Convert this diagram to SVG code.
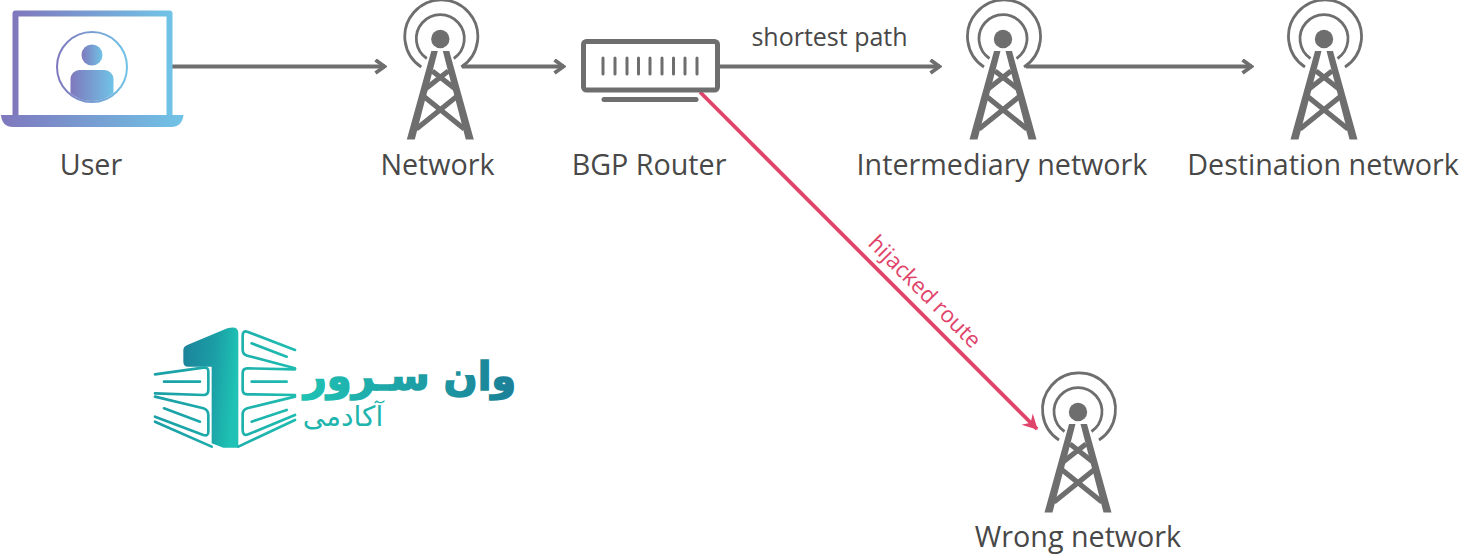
<svg xmlns="http://www.w3.org/2000/svg" width="1459" height="555" viewBox="0 0 1459 555">
<style>
.lbl{font-family:"Open Sans","Noto Sans",sans-serif;font-size:28.700px;fill:#484848;text-anchor:middle}
.con{fill:none;stroke:#6e6e6e;stroke-width:4}
.bk{fill:none;stroke:url(#lg);stroke-width:8;stroke-linecap:round;stroke-linejoin:round}
.twr{fill:none;stroke:#6e6e6e}
</style>
<defs>
<linearGradient id="pb" x1="0" x2="1" y1="0" y2="0"><stop offset="0" stop-color="#7f78bd"/><stop offset="1" stop-color="#70c3e6"/></linearGradient>
<linearGradient id="lg" gradientUnits="userSpaceOnUse" x1="40" x2="470" y1="0" y2="0"><stop offset="0" stop-color="#1a9fa6"/><stop offset="1" stop-color="#1fbcb0"/></linearGradient>
<linearGradient id="one" x1="0" x2="1" y1="0" y2="0.200"><stop offset="0" stop-color="#1b8299"/><stop offset="0.600" stop-color="#1b9fa6"/><stop offset="1" stop-color="#1fc2b4"/></linearGradient>
<linearGradient id="wt" gradientUnits="userSpaceOnUse" x1="303" x2="517" y1="0" y2="0"><stop offset="0" stop-color="#1fc2b4"/><stop offset="1" stop-color="#1b7f97"/></linearGradient>
<clipPath id="uc"><circle cx="92" cy="67" r="34"/></clipPath>
<marker id="ag" viewBox="0 0 14 16" refX="12.500" refY="8" markerWidth="14" markerHeight="16" markerUnits="userSpaceOnUse" orient="auto"><path d="M3 1.500 L12 8 L3 14.500" fill="none" stroke="#6e6e6e" stroke-width="3.800"/></marker>
<marker id="ar" viewBox="0 0 18 18" refX="15" refY="9" markerWidth="18" markerHeight="18" markerUnits="userSpaceOnUse" orient="auto"><path d="M1 1 L16 9 L1 17 L6 9 Z" fill="#e0446a"/></marker>
<g id="tower">
<circle r="9.200" fill="#6e6e6e"/>
<path class="twr" stroke-width="2.800" d="M-13.500 19.500 A24 24 0 1 1 13.500 19.500"/>
<path class="twr" stroke-width="2.800" d="M-19 28 A36.500 36.500 0 1 1 21 28"/>
<path fill="#6e6e6e" d="M-9 12 L-2.500 12 L-25.500 100.500 L-33.500 100.500 Z M9 12 L2.500 12 L25.500 100.500 L33.500 100.500 Z"/>
<path class="twr" stroke-width="5.200" d="M-8 32 L15 50 M8 32 L-15 50 M-17 57 L24 90 M17 57 L-24 90"/>
</g>
</defs>
<rect width="1459" height="555" fill="#fff"/>

<g id="connectors">
<path class="con" marker-end="url(#ag)" d="M172 66.500H385"/>
<path class="con" marker-end="url(#ag)" d="M462 66.500H564"/>
<path class="con" marker-end="url(#ag)" d="M720 66.500H940"/>
<path class="con" marker-end="url(#ag)" d="M1026 66.500H1252"/>
<path fill="none" stroke="#e0446a" stroke-width="3.800" marker-end="url(#ar)" d="M700 92L1037 429"/>
<text font-family="'Open Sans','Noto Sans',sans-serif" font-size="25" fill="#484848" text-anchor="middle" x="829.500" y="46">shortest path</text>
<text font-family="'Open Sans','Noto Sans',sans-serif" font-size="22.300" fill="#e0446a" text-anchor="middle" transform="translate(919.500 297) rotate(45)" x="0" y="0">hijacked route</text>
</g>

<g id="user">
<path fill="#fff" stroke="url(#pb)" stroke-width="6" stroke-linejoin="round" d="M15.500 117V13.500H169.500V117"/>
<path fill="url(#pb)" d="M1 115H183.500Q182 127 171 127H13Q2 127 1 115Z"/>
<circle cx="92" cy="67" r="35" fill="none" stroke="url(#pb)" stroke-width="2"/>
<circle cx="92" cy="55" r="10.500" fill="url(#pb)"/>
<rect x="70.500" y="70" width="43" height="40" rx="9" fill="url(#pb)" clip-path="url(#uc)"/>
<text class="lbl" x="91" y="175">User</text>
</g>

<g id="network"><use href="#tower" x="440.300" y="39"/><text class="lbl" x="437.500" y="175">Network</text></g>

<g id="bgp-router">
<rect x="583.500" y="41.500" width="134" height="48.500" rx="3" fill="#fff" stroke="#6e6e6e" stroke-width="5"/>
<path stroke="#6e6e6e" stroke-width="3" stroke-linecap="round" fill="none" d="M603 58V74M615 58V74M627 58V74M638.500 58V74M650 58V74M662 58V74M673.500 58V74M685 58V74M697 58V74"/>
<path stroke="#6e6e6e" stroke-width="5" stroke-linecap="round" fill="none" d="M604 99.500H696"/>
<text class="lbl" x="649" y="175">BGP Router</text>
</g>

<g id="intermediary-network"><use href="#tower" x="1003" y="39"/><text class="lbl" x="1002" y="175">Intermediary network</text></g>
<g id="destination-network"><use href="#tower" x="1324" y="39"/><text class="lbl" x="1323" y="175">Destination network</text></g>
<g id="wrong-network"><use href="#tower" x="1078" y="412"/><text class="lbl" x="1078" y="547">Wrong network</text></g>

<g id="logo">
<g transform="translate(140 315) scale(.3333)">
<path fill="url(#one)" d="M130 105Q130 95 142 90L262 40Q295 30 295 55V398H250L215 385V155H145Q130 155 130 140Z"/>
<path class="bk" d="M465 105L322 50Q308 46 308 62V105Q308 118 322 122L465 160M335 85L440 125"/>
<path class="bk" d="M465 163L322 160Q308 160 308 175V225Q308 238 322 238L465 240M335 200H440"/>
<path class="bk" d="M465 245L322 280Q308 285 308 298V345Q308 365 325 358L465 300M335 320L440 285M465 315L295 395"/>
<path class="bk" d="M45 178L190 158Q205 156 205 170V225Q205 240 190 240L45 235M72 200H180"/>
<path class="bk" d="M45 245L190 280Q205 285 205 300V350Q205 365 190 360L45 305M72 280L180 320M45 320L215 395"/>
</g>
<text font-family="'DejaVu Sans',sans-serif" font-weight="700" font-size="40" fill="url(#wt)" stroke="url(#wt)" stroke-width="1.500" text-anchor="middle" x="410" y="390">وان سـرور</text>
<text font-family="'DejaVu Sans',sans-serif" font-size="28" fill="#1fb5ae" text-anchor="middle" x="343" y="426">آکادمی</text>
</g>
</svg>
